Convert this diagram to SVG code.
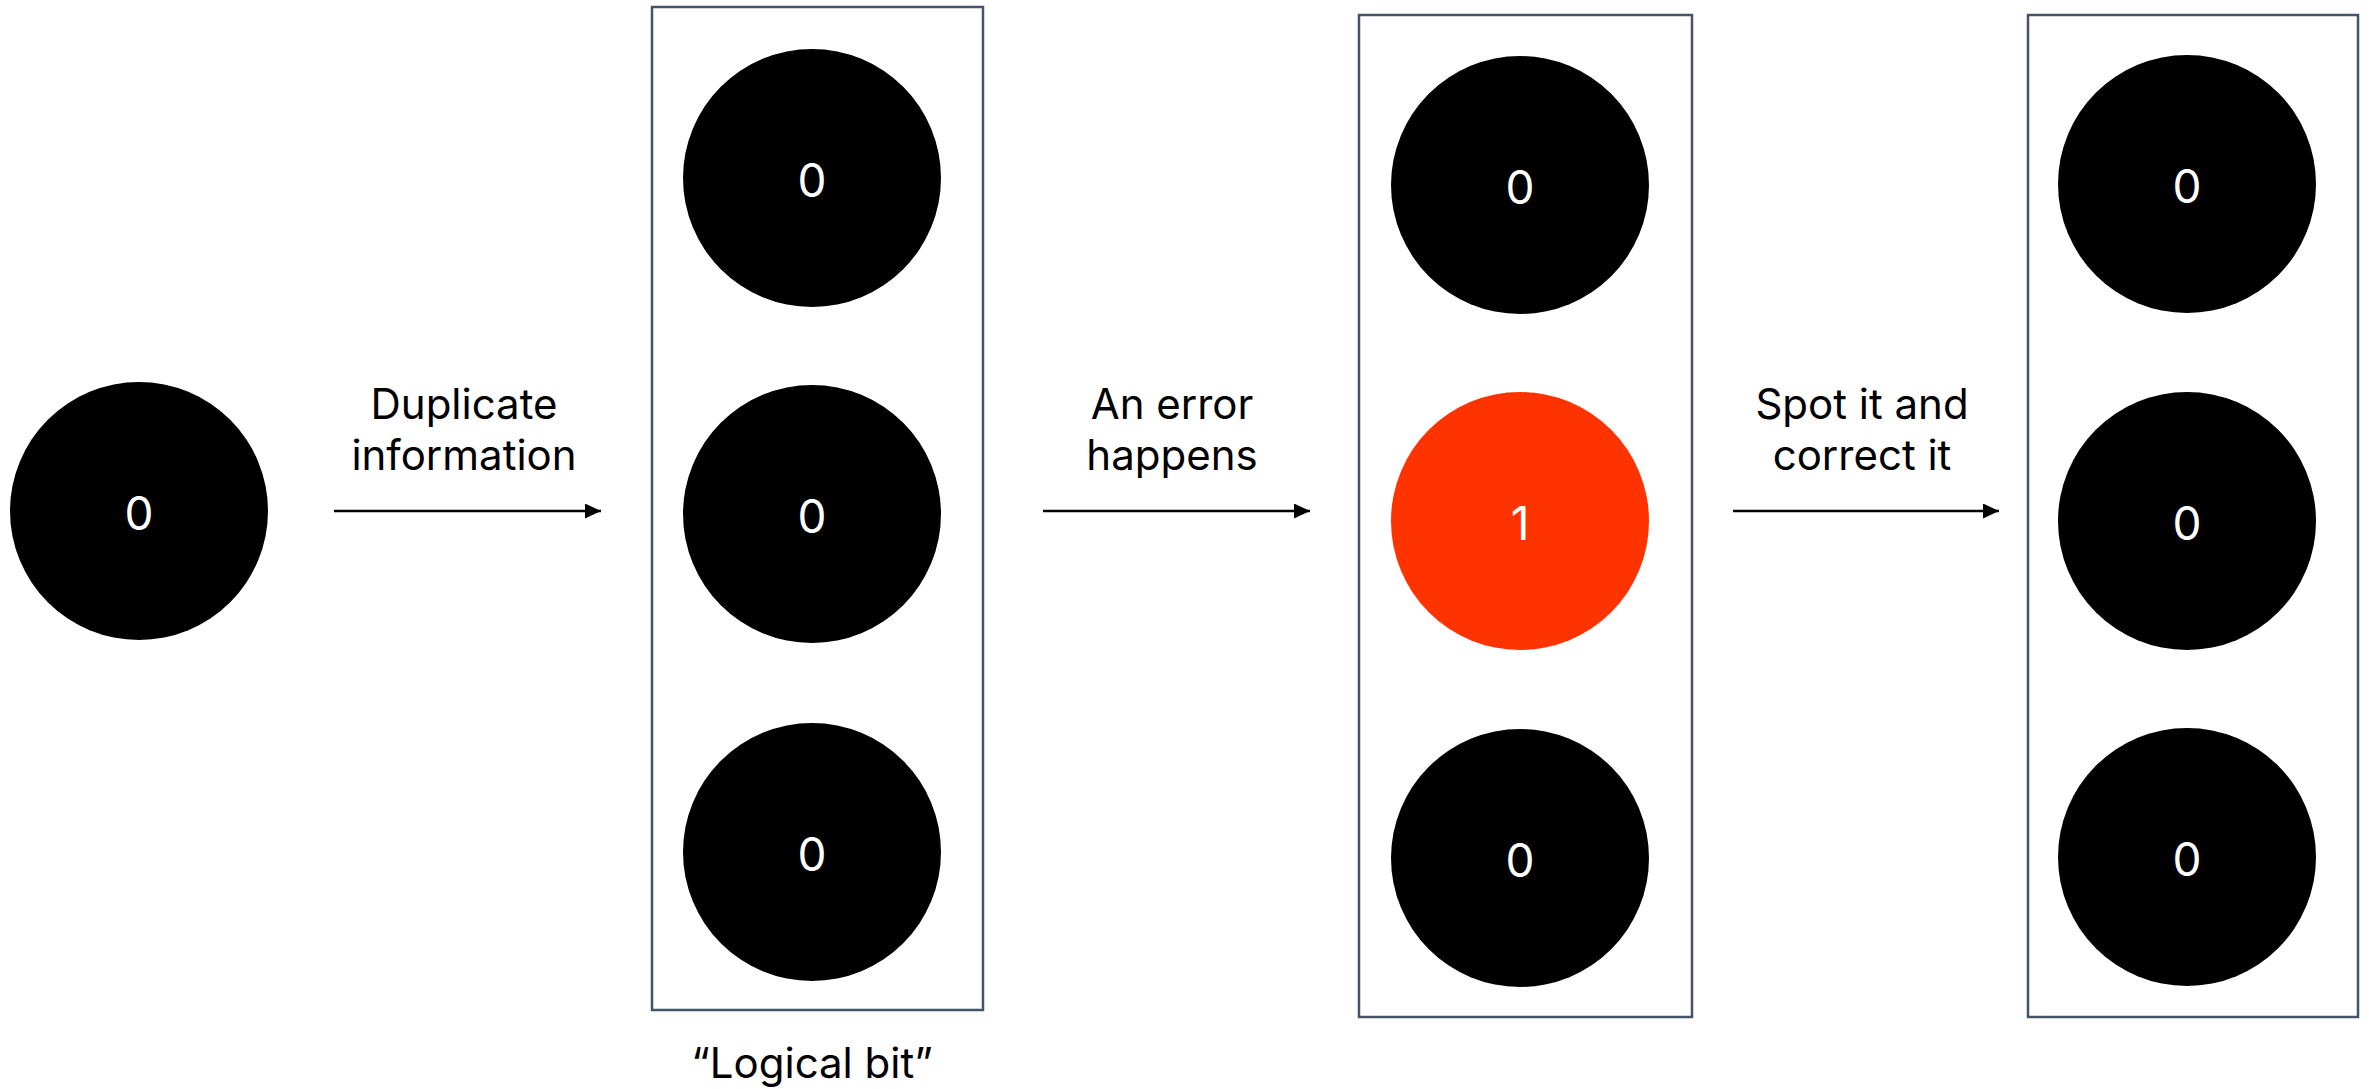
<svg xmlns="http://www.w3.org/2000/svg" width="2369" height="1089" viewBox="0 0 2369 1089">
<style>
.box{fill:#fff;stroke:#44546a;stroke-width:2.5}
.bit{fill:#000}
.err{fill:#ff3300}
.d{font-family:Inter,"Liberation Sans",sans-serif;font-size:46px;fill:#fff;text-anchor:middle;dominant-baseline:central}
.lbl{font-family:Inter,"Liberation Sans",sans-serif;font-size:42px;fill:#000;text-anchor:middle}
.arr{stroke:#000;stroke-width:2.7;fill:none;marker-end:url(#ah)}
</style>
<defs>
<marker id="ah" markerWidth="16" markerHeight="15" refX="16" refY="7.5" orient="auto" markerUnits="userSpaceOnUse">
<path d="M0,0 L16,7.5 L0,15 Z" fill="#000"/>
</marker>
</defs>
<rect width="2369" height="1089" fill="#fff"/>
<g id="single">
<circle class="bit" cx="139" cy="511" r="129"/>
<text class="d" x="139" y="513">0</text>
</g>
<g id="logical-bit">
<rect class="box" x="652" y="7" width="331" height="1003"/>
<circle class="bit" cx="812" cy="178" r="129"/>
<text class="d" x="812" y="180">0</text>
<circle class="bit" cx="812" cy="514" r="129"/>
<text class="d" x="812" y="516">0</text>
<circle class="bit" cx="812" cy="852" r="129"/>
<text class="d" x="812" y="854">0</text>
<text class="lbl" x="812" y="1078">“Logical bit”</text>
</g>
<g id="error-state">
<rect class="box" x="1359" y="15" width="333" height="1002"/>
<circle class="bit" cx="1520" cy="185" r="129"/>
<text class="d" x="1520" y="187">0</text>
<circle class="err" cx="1520" cy="521" r="129"/>
<text class="d" x="1520" y="523">1</text>
<circle class="bit" cx="1520" cy="858" r="129"/>
<text class="d" x="1520" y="860">0</text>
</g>
<g id="corrected-state">
<rect class="box" x="2028" y="15" width="330" height="1002"/>
<circle class="bit" cx="2187" cy="184" r="129"/>
<text class="d" x="2187" y="186">0</text>
<circle class="bit" cx="2187" cy="521" r="129"/>
<text class="d" x="2187" y="523">0</text>
<circle class="bit" cx="2187" cy="857" r="129"/>
<text class="d" x="2187" y="859">0</text>
</g>
<g id="connectors">
<line class="arr" x1="334" y1="511" x2="601" y2="511"/>
<text class="lbl" x="464" y="419">Duplicate</text>
<text class="lbl" x="464" y="470">information</text>
<line class="arr" x1="1043" y1="511" x2="1310" y2="511"/>
<text class="lbl" x="1172" y="419">An error</text>
<text class="lbl" x="1172" y="470">happens</text>
<line class="arr" x1="1733" y1="511" x2="1999" y2="511"/>
<text class="lbl" x="1862" y="419">Spot it and</text>
<text class="lbl" x="1862" y="470">correct it</text>
</g>
</svg>
